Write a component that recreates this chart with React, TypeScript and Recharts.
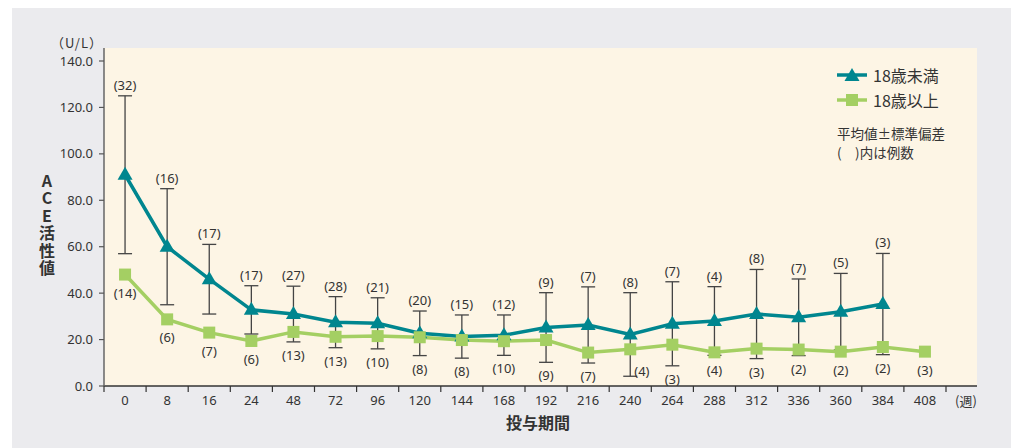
import React from "react";
import {
  LineChart,
  Line,
  XAxis,
  YAxis,
  CartesianGrid,
  ErrorBar,
  LabelList,
  Legend,
  Customized,
} from "recharts";

const weeks = ["0", "8", "16", "24", "48", "72", "96", "120", "144", "168", "192", "216", "240", "264", "288", "312", "336", "360", "384", "408"];
const under18Mean = [91, 60, 46, 32.8, 31, 27.5, 27, 22.7, 21.3, 21.9, 25.2, 26.3, 22.2, 26.8, 28, 31, 29.6, 32, 35.3, null];
const under18Sd = [34, 25, 15, 10.4, 12, 11, 11, 9.6, 9.3, 8.7, 15, 16.4, 18, 18.1, 14.8, 19.2, 16.5, 16.5, 21.8, null];
const under18N = [32, 16, 17, 17, 27, 28, 21, 20, 15, 12, 9, 7, 8, 7, 4, 8, 7, 5, 3, null];
const over18Mean = [48, 28.7, 23, 19.4, 23.3, 21.2, 21.5, 21, 19.8, 19.3, 19.8, 14.4, 15.8, 17.8, 14.5, 16.1, 15.7, 14.8, 16.8, 14.8];
const over18N = [14, 6, 7, 6, 13, 13, 10, 8, 8, 10, 9, 7, 4, 3, 4, 3, 2, 2, 2, 3];
const yTicks = [0, 20, 40, 60, 80, 100, 120, 140];

const TEAL = "#00868f";
const GREEN = "#a4cf63";
const TEXT = "#333";
const FONT = "'Noto Sans', 'Noto Sans CJK JP', sans-serif";
const JP_FONT = "'Noto Sans CJK JP', 'Noto Sans', sans-serif";

// layout
const W = 1011;
const H = 448;
const PLOT_LEFT = 104;
const PLOT_TOP = 48;
const PLOT_RIGHT = 977;
const PLOT_BOTTOM = 386;
const Y_MAX = 145.6;
const PPU = (PLOT_BOTTOM - PLOT_TOP) / Y_MAX;
const X_EXTRA = 31; // room for the (週) label
const BAND = (PLOT_RIGHT - PLOT_LEFT - X_EXTRA) / weeks.length;
const yPix = (v: number) => PLOT_BOTTOM - v * PPU;
const idxOf = (x: number) => Math.round((x - PLOT_LEFT - BAND / 2) / BAND);

const data = weeks.map((week, i) => ({
  week,
  under: under18Mean[i],
  underSd: under18Sd[i],
  underN: under18N[i],
  over: over18Mean[i],
  overN: over18N[i],
}));

function WeekTick(props: any) {
  const { x, payload } = props;
  const last = payload.value === weeks[weeks.length - 1];
  const left = x - BAND / 2;
  return (
    <g>
      <line x1={left} x2={left} y1={PLOT_BOTTOM} y2={PLOT_BOTTOM + 6} stroke={TEXT} strokeWidth={1.2} />
      {last && (
        <>
          <line x1={x + BAND / 2} x2={x + BAND / 2} y1={PLOT_BOTTOM} y2={PLOT_BOTTOM + 6} stroke={TEXT} strokeWidth={1.2} />
          <text x={x + BAND / 2 + 20} y={400} textAnchor="middle" dominantBaseline="central" fontSize={13} fill={TEXT} fontFamily={JP_FONT}>
            (週)
          </text>
        </>
      )}
      <text x={x} y={400} textAnchor="middle" dominantBaseline="central" fontSize={13} fill={TEXT} fontFamily={FONT}>
        {payload.value}
      </text>
    </g>
  );
}

function TriangleDot(props: any) {
  const { cx, cy, value, index } = props;
  if (cx == null || cy == null || value == null) return <g key={`t${index}`} />;
  return <polygon key={`t${index}`} points={`${cx},${cy - 8} ${cx - 7.5},${cy + 5} ${cx + 7.5},${cy + 5}`} fill={TEAL} />;
}

function SquareDot(props: any) {
  const { cx, cy, value, index } = props;
  if (cx == null || cy == null || value == null) return <g key={`s${index}`} />;
  return <rect key={`s${index}`} x={cx - 6} y={cy - 6} width={12} height={12} fill={GREEN} />;
}

const underLabel = (props: any) => {
  const { x, y, value } = props;
  if (value == null || y == null) return null;
  const i = idxOf(x);
  const top = y - (under18Sd[i] ?? 0) * PPU;
  return (
    <text x={x} y={top - 11} textAnchor="middle" dominantBaseline="central" fontSize={13} fill={TEXT} fontFamily={FONT}>
      {`(${value})`}
    </text>
  );
};

const overLabel = (props: any) => {
  const { x, y, value } = props;
  if (value == null || y == null) return null;
  const i = idxOf(x);
  const m = under18Mean[i];
  const s = under18Sd[i];
  const barBottom = m != null && s != null ? yPix(m - s) : -Infinity;
  let ly = Math.max(y + 18, barBottom + 13);
  let lx = x;
  let anchor: "middle" | "start" = "middle";
  if (ly > 382) {
    lx = x + 4;
    ly = barBottom - 5;
    anchor = "start";
  }
  return (
    <text x={lx} y={ly} textAnchor={anchor} dominantBaseline="central" fontSize={13} fill={TEXT} fontFamily={FONT}>
      {`(${value})`}
    </text>
  );
};

function LegendBox() {
  const row = { display: "flex", alignItems: "center", height: 25 };
  return (
    <div style={{ fontFamily: JP_FONT, color: TEXT }}>
      <div style={row}>
        <svg width={30} height={16}>
          <line x1={0} x2={30} y1={8} y2={8} stroke={TEAL} strokeWidth={3.5} />
          <polygon points="15,1 7.5,14 22.5,14" fill={TEAL} />
        </svg>
        <span style={{ marginLeft: 6, fontSize: 16 }}>18歳未満</span>
      </div>
      <div style={row}>
        <svg width={30} height={16}>
          <line x1={0} x2={30} y1={8} y2={8} stroke={GREEN} strokeWidth={3.5} />
          <rect x={9} y={2} width={12} height={12} fill={GREEN} />
        </svg>
        <span style={{ marginLeft: 6, fontSize: 16 }}>18歳以上</span>
      </div>
      <div style={{ marginTop: 12, fontSize: 13.5, lineHeight: "19px" }}>
        <div>平均値±標準偏差</div>
        <div>(　)内は例数</div>
      </div>
    </div>
  );
}

function AxisTitles() {
  return (
    <g fontFamily={JP_FONT} fill={TEXT}>
      <text x={77} y={42} textAnchor="middle" dominantBaseline="central" fontSize={13} letterSpacing={1}>
        （U/L）
      </text>
      <text
        x={47}
        y={173}
        writingMode="vertical-rl"
        style={{ textOrientation: "upright" }}
        fontSize={16}
        letterSpacing={1.4}
        fontWeight="bold"
      >
        ACE活性値
      </text>
      <text x={538} y={422} textAnchor="middle" dominantBaseline="central" fontSize={16} fontWeight="bold">
        投与期間
      </text>
    </g>
  );
}

export default function App() {
  return (
    <div style={{ position: "fixed", left: 0, top: 0, width: W, height: H, background: "#fff", fontFamily: FONT }}>
      <div style={{ position: "absolute", left: 12, top: 8, right: 0, bottom: 0, background: "#ebebee" }} />
      <div style={{ position: "absolute", left: 0, top: 0 }}>
        <LineChart width={W} height={H} data={data} margin={{ top: PLOT_TOP, right: W - PLOT_RIGHT, left: 44, bottom: 32 }}>
          <CartesianGrid horizontal={false} vertical={false} fill="#fdf5e5" stroke="none" />
          <XAxis
            dataKey="week"
            scale="point"
            interval={0}
            padding={{ left: BAND / 2, right: BAND / 2 + X_EXTRA }}
            height={30}
            tickLine={false}
            axisLine={{ stroke: TEXT, strokeWidth: 1.5 }}
            tick={<WeekTick />}
          />
          <YAxis
            domain={[0, Y_MAX]}
            ticks={yTicks}
            allowDataOverflow
            width={60}
            tickSize={5}
            tickMargin={6}
            tickFormatter={(v: number) => v.toFixed(1)}
            axisLine={{ stroke: "#666", strokeWidth: 1.5 }}
            tickLine={{ stroke: "#555", strokeWidth: 1.2 }}
            tick={{ fill: TEXT, fontSize: 13, fontFamily: FONT }}
          />
          <Legend
            content={() => <LegendBox />}
            wrapperStyle={{ position: "absolute", left: 837, top: 62, width: 170, height: 0, overflow: "visible" }}
          />
          <Line
            dataKey="under"
            stroke={TEAL}
            strokeWidth={3.5}
            dot={TriangleDot}
            activeDot={false}
            isAnimationActive={false}
          >
            <ErrorBar dataKey="underSd" width={7} stroke="#444" strokeWidth={1.3} direction="y" />
            <LabelList dataKey="underN" content={underLabel} />
          </Line>
          <Line
            dataKey="over"
            stroke={GREEN}
            strokeWidth={3.5}
            dot={SquareDot}
            activeDot={false}
            isAnimationActive={false}
          >
            <LabelList dataKey="overN" content={overLabel} />
          </Line>
          <Customized component={AxisTitles} />
        </LineChart>
      </div>
    </div>
  );
}
